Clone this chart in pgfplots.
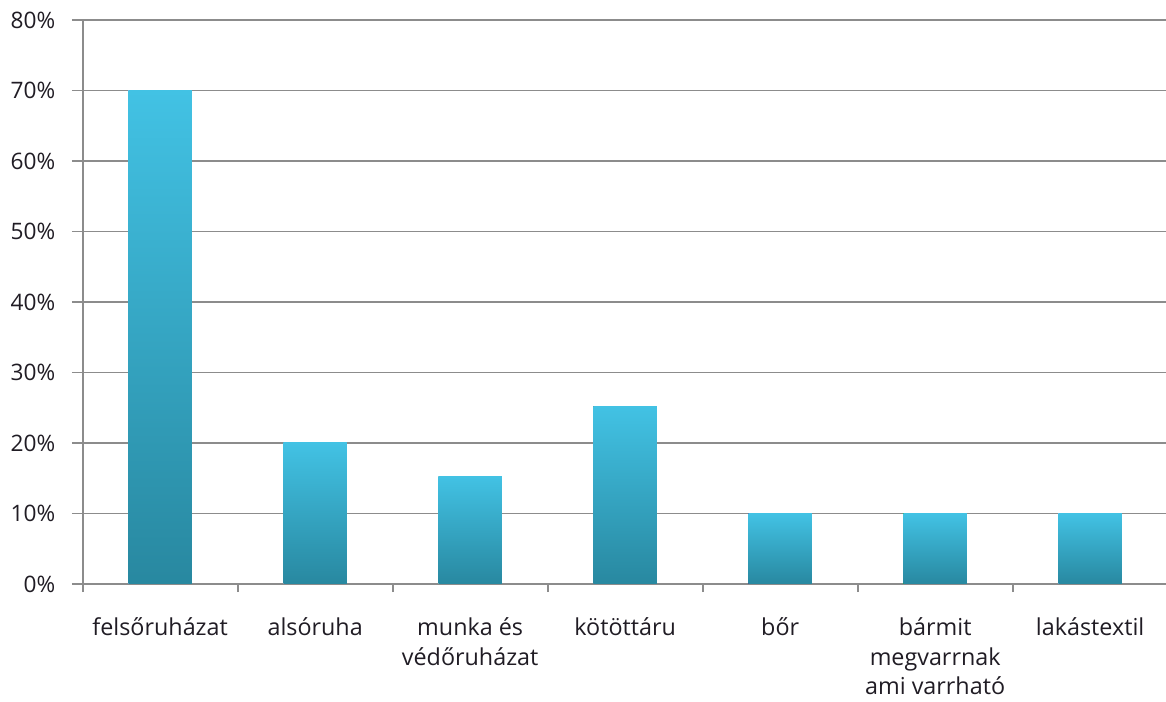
\documentclass[border=0pt]{standalone}
\usepackage{fontspec}
\setmainfont{Open Sans}
\usepackage{pgfplots}
\pgfplotsset{compat=1.18}

\definecolor{gridgray}{RGB}{140,140,140}
\definecolor{txt}{RGB}{32,28,36}
\definecolor{bartop}{RGB}{66,194,228}
\definecolor{barmid}{RGB}{55,174,207}
\definecolor{barbot}{RGB}{40,136,160}

\begin{document}
\begin{tikzpicture}
\useasboundingbox (-62pt,-88.5pt) rectangle (812.5pt,438pt);
\begin{axis}[
    scale only axis,
    width=813.75pt,
    height=423pt,
    ybar,
    bar width=0.41,
    bar shift=0pt,
    xmin=-0.5, xmax=6.5,
    ymin=0, ymax=80,
    xtick={0,...,6},
    xticklabels={felsőruházat, alsóruha, munka és\\védőruházat, kötöttáru, bőr,
                 bármit\\megvarrnak\\ami varrható, lakástextil},
    ytick={0,10,...,80},
    yticklabel={\pgfmathprintnumber{\tick}\%},
    /pgf/number format/assume math mode=true,
    axis x line*=bottom,
    axis y line*=left,
    axis line style={gridgray, line width=1.4pt, -},
    ymajorgrids,
    major grid style={gridgray, line width=1.4pt},
    tick style={gridgray, line width=1.4pt},
    tick align=outside,
    major tick length=8pt,
    x tick style={draw=none},
    extra x ticks={-0.5,0.5,...,6.5},
    extra x tick labels={},
    extra x tick style={major tick length=6pt, grid=none, x tick style={draw=gridgray}},
    ticklabel style={text=txt},
    x tick label style={align=center, anchor=north, yshift=-14pt,
                        font=\fontsize{17.5}{22}\selectfont},
    y tick label style={xshift=-9pt, font=\fontsize{17}{20}\selectfont},
    every axis plot/.append style={draw=none, top color=bartop,
                                   middle color=barmid, bottom color=barbot},
    clip=false,
]
% one plot per bar so that each bar gets its own shading
\addplot coordinates {(0,70)};
\addplot coordinates {(1,20)};
\addplot coordinates {(2,15.3)};
\addplot coordinates {(3,25.2)};
\addplot coordinates {(4,10)};
\addplot coordinates {(5,10)};
\addplot coordinates {(6,10)};
\end{axis}
\end{tikzpicture}
\end{document}
